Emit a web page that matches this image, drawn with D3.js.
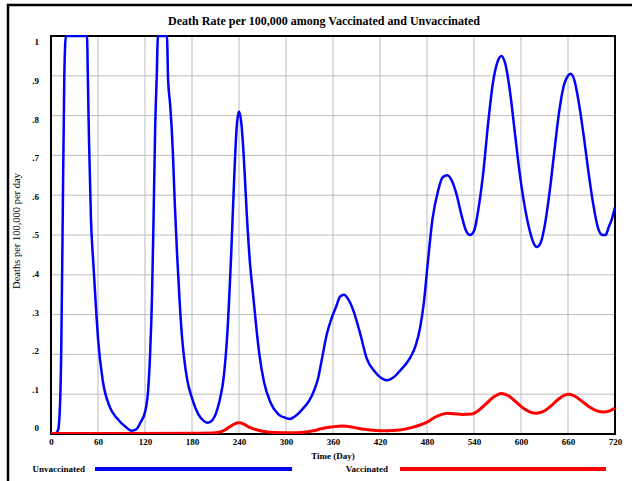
<!DOCTYPE html>
<html>
<head>
<meta charset="utf-8">
<script src="https://cdn.jsdelivr.net/npm/d3@7"></script>
<style>
  body { margin: 0; background: #fff; }
  text { font-family: "Liberation Serif", "Times New Roman", serif; }
</style>
</head>
<body>
<svg id="chart" width="632" height="481"></svg>
<script>
// values

var unvaxDays = [0, 6, 9, 11, 13, 15, 17, 19, 46, 47, 48.5, 51, 54, 57, 60, 66, 75, 84, 97, 103, 109, 114, 120, 124,
    126.5, 129, 131, 133, 135, 136.5, 148, 149.5, 152, 154, 155.5, 158, 161, 164, 167, 170, 174, 180, 188, 195, 200, 206,
    212, 217, 220, 225, 230, 234, 237, 240, 243, 246, 250, 254, 258, 262, 266, 272, 280, 290, 300, 305, 312, 320, 330,
    336, 341, 346, 352, 358, 364, 369, 374, 379, 386, 395, 403, 414, 422, 429, 437, 446, 458, 466, 471, 476, 481, 487,
    494, 500, 506, 512, 518, 524, 530, 535, 540, 546, 552, 558, 564, 570, 575, 580, 586, 592, 598, 604, 610, 616, 620,
    625, 630, 636, 642, 648, 654, 660, 663, 668, 674, 680, 686, 692, 698, 704, 708, 712, 716, 720];
var unvaxRate = [0, 0.002, 0.01, 0.05, 0.2, 0.55, 0.9, 1, 1, 0.9, 0.74, 0.54, 0.43, 0.33, 0.24, 0.135, 0.068, 0.04, 0.015, 0.008, 0.012, 0.028, 0.055, 0.11,
    0.2, 0.35, 0.55, 0.77, 0.9, 1, 1, 0.89, 0.83, 0.77, 0.71, 0.58, 0.45, 0.34, 0.25, 0.19, 0.135, 0.09, 0.05, 0.033, 0.028, 0.035,
    0.06, 0.1, 0.135, 0.25, 0.45, 0.65, 0.77, 0.81, 0.78, 0.7, 0.55, 0.43, 0.35, 0.27, 0.2, 0.13, 0.08, 0.05, 0.04, 0.038, 0.045, 0.06, 0.085,
    0.11, 0.14, 0.19, 0.25, 0.29, 0.32, 0.345, 0.35, 0.34, 0.31, 0.25, 0.19, 0.155, 0.14, 0.135, 0.142, 0.16, 0.19, 0.225, 0.265, 0.33, 0.43, 0.54,
    0.61, 0.645, 0.65, 0.635, 0.6, 0.55, 0.51, 0.5, 0.51, 0.57, 0.66, 0.78, 0.88, 0.935, 0.95, 0.93, 0.86, 0.76, 0.66, 0.58, 0.52, 0.48, 0.47,
    0.48, 0.52, 0.6, 0.7, 0.8, 0.87, 0.9, 0.905, 0.89, 0.83, 0.75, 0.66, 0.58, 0.52, 0.5, 0.5, 0.52, 0.54, 0.57];

var vaxDays = [0, 100, 190, 210, 216, 222, 228, 234, 240, 246, 252, 260, 270, 285, 305, 320, 335, 345, 355, 365, 373, 385,
    400, 415, 429, 445, 460, 470, 480, 490, 500, 506, 515, 525, 537, 545, 555, 565, 575, 585, 595, 605, 612, 619, 628,
    638, 648, 655, 661, 668, 678, 688, 697, 706, 713, 720];
var vaxRate = [0.001, 0.001, 0.002, 0.003, 0.005, 0.01, 0.018, 0.025, 0.028, 0.025, 0.018, 0.012, 0.007, 0.004, 0.003, 0.004, 0.008, 0.013, 0.017, 0.019, 0.02, 0.017,
    0.012, 0.009, 0.008, 0.01, 0.016, 0.022, 0.03, 0.042, 0.05, 0.052, 0.051, 0.049, 0.05, 0.058, 0.075, 0.093, 0.102, 0.095, 0.078, 0.062, 0.055, 0.052, 0.056,
    0.07, 0.088, 0.097, 0.1, 0.096, 0.082, 0.067, 0.058, 0.055, 0.058, 0.065];

var xTicks = [0, 60, 120, 180, 240, 300, 360, 420, 480, 540, 600, 660, 720];
var yTicks = [0, 0.1, 0.2, 0.3, 0.4, 0.5, 0.6, 0.7, 0.8, 0.9, 1];
var yTickLabels = ["0", ".1", ".2", ".3", ".4", ".5", ".6", ".7", ".8", ".9", "1"];

var svg = d3.select("#chart");

// note: "top" is taken by window.top, so the plot edges get their own names
var plotLeft = 51, plotRight = 615, plotTop = 36, plotBottom = 434;

var x = d3.scaleLinear().domain([0, 720]).range([plotLeft, plotRight]);
var y = d3.scaleLinear().domain([0, 1]).range([plotBottom, plotTop]);
// the tick labels sit a little tighter than the grid in the original
var yLab = d3.scaleLinear().domain([0, 1]).range([428, 42]);

// outer frame (runs off the right and bottom edge)
svg.append("rect")
    .attr("x", 8).attr("y", 5)
    .attr("width", 660).attr("height", 500)
    .attr("fill", "none")
    .attr("stroke", "#000")
    .attr("stroke-width", 2.5);

// title
svg.append("text")
    .attr("x", 324).attr("y", 25)
    .attr("text-anchor", "middle")
    .attr("font-size", "12px")
    .attr("font-weight", "bold")
    .text("Death Rate per 100,000 among Vaccinated and Unvaccinated");

// grid
svg.append("g")
    .selectAll("line").data(xTicks).enter().append("line")
    .attr("x1", function(d) { return x(d); })
    .attr("x2", function(d) { return x(d); })
    .attr("y1", plotTop).attr("y2", plotBottom)
    .attr("stroke", "#d2d2d2")
    .attr("stroke-width", 1.5);

svg.append("g")
    .selectAll("line").data(yTicks).enter().append("line")
    .attr("x1", plotLeft).attr("x2", plotRight)
    .attr("y1", function(d) { return y(d); })
    .attr("y2", function(d) { return y(d); })
    .attr("stroke", "#bcbcbc")
    .attr("stroke-width", 1);

// plot box
svg.append("rect")
    .attr("x", plotLeft).attr("y", plotTop)
    .attr("width", plotRight - plotLeft).attr("height", plotBottom - plotTop)
    .attr("fill", "none")
    .attr("stroke", "#000")
    .attr("stroke-width", 2);

// axes (labels only, lines come from the box)
var xAxis = svg.append("g")
    .attr("transform", "translate(0," + plotBottom + ")")
    .call(d3.axisBottom(x).tickValues(xTicks).tickSize(0).tickPadding(5).tickFormat(d3.format("d")));
xAxis.select(".domain").remove();
xAxis.selectAll("text")
    .attr("font-family", "Liberation Serif")
    .attr("font-size", "9px")
    .attr("font-weight", "bold")
    .attr("fill", "#000");

var yAxis = svg.append("g")
    .attr("transform", "translate(39,0)")
    .call(d3.axisLeft(yLab).tickValues(yTicks).tickSize(0).tickPadding(0)
        .tickFormat(function(d, i) { return yTickLabels[i]; }));
yAxis.select(".domain").remove();
yAxis.selectAll("text")
    .attr("font-family", "Liberation Serif")
    .attr("font-size", "9px")
    .attr("font-weight", "bold")
    .attr("fill", "#000");

// axis titles
svg.append("text")
    .attr("x", 333).attr("y", 459)
    .attr("text-anchor", "middle")
    .attr("font-size", "9px")
    .attr("font-weight", "bold")
    .text("Time (Day)");

svg.append("text")
    .attr("transform", "translate(20,231) rotate(-90)")
    .attr("text-anchor", "middle")
    .attr("font-size", "10.5px")
    .text("Deaths per 100,000 per day");

// series
svg.append("clipPath").attr("id", "plotclip")
    .append("rect")
    .attr("x", plotLeft).attr("y", plotTop - 1)
    .attr("width", plotRight - plotLeft).attr("height", plotBottom - plotTop + 1);

var unvaxData = unvaxDays.map(function(d, i) { return {day: d, v: unvaxRate[i]}; });
var vaxData = vaxDays.map(function(d, i) { return {day: d, v: vaxRate[i]}; });

var line = d3.line()
    .x(function(d) { return x(d.day); })
    .y(function(d) { return y(d.v); })
    .curve(d3.curveMonotoneX);

var plot = svg.append("g").attr("clip-path", "url(#plotclip)");

plot.append("path")
    .datum(unvaxData)
    .attr("d", line)
    .attr("fill", "none")
    .attr("stroke", "#0000ff")
    .attr("stroke-width", 2.5);

plot.append("path")
    .datum(vaxData)
    .attr("d", line)
    .attr("fill", "none")
    .attr("stroke", "#ff0000")
    .attr("stroke-width", 3);

// legend
var legend = [
    {label: "Unvaccinated", tx: 85, x1: 95, x2: 292, color: "#0000ff"},
    {label: "Vaccinated", tx: 388, x1: 400, x2: 606, color: "#ff0000"}
];

legend.forEach(function(l) {
    svg.append("text")
        .attr("x", l.tx).attr("y", 472)
        .attr("text-anchor", "end")
        .attr("font-size", "9px")
        .attr("font-weight", "bold")
        .text(l.label);
    svg.append("line")
        .attr("x1", l.x1).attr("x2", l.x2)
        .attr("y1", 469).attr("y2", 469)
        .attr("stroke", l.color)
        .attr("stroke-width", 4);
});
</script>
</body>
</html>
